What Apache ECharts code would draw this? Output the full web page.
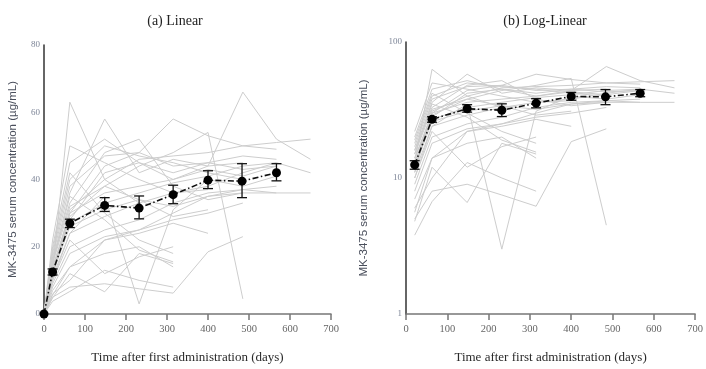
<!DOCTYPE html>
<html>
<head>
<meta charset="utf-8">
<script src="https://cdn.jsdelivr.net/npm/echarts@6/dist/echarts.min.js"></script>
<style>
html,body{margin:0;padding:0;background:#fff;}
#chart{width:706px;height:369px;}
</style>
</head>
<body>
<div id="chart"></div>
<script>
// ---- data ----
const titles = ['(a) Linear', '(b) Log-Linear'];
const yAxisName = 'MK-3475 serum concentration (\u00b5g/mL)';
const xAxisName = 'Time after first administration (days)';
const xTicks = [0, 100, 200, 300, 400, 500, 600, 700];
const linTicks = [0, 20, 40, 60, 80];
const logTicks = [1, 10, 100];

// visit days (nominal)
const visitDays = [0, 21, 63, 148, 232, 315, 400, 485, 567, 650];

// individual subject concentrations at each visit (null = no sample)
const s01 = [0, 13, 63, 40, 33, null, null, null, null, null];
const s02 = [0, 16, 36, 58, 42, 46, 44, 45, null, null];
const s03 = [0, 11, 30, 44, 48, 58, 53, 50, 49, null];
const s04 = [0, 14, 28, 42, 45, 40, 44, 66, 52, 46];
const s05 = [0, 12, 31, 40, 46, 47, 48, 50, 51, 52];
const s06 = [0, 18, 40, 50, 47, 45, 42, 40, null, null];
const s07 = [0, 10, 24, 35, 3, 31, 40, 38, 41, null];
const s08 = [0, 15, 32, 38, 44, 48, 54, 4.5, null, null];
const s09 = [0, 5, 8, 9, 7.5, 6.2, 18.5, 23, null, null];
const s10 = [0, 3.8, 6.7, 13, 10, 8, null, null, null, null];
const s11 = [0, 4.8, 12, 6.6, 18, 15, null, null, null, null];
const s12 = [0, 5.6, 14, 22, 25, 28, 30, 33, null, null];
const s13 = [0, 20, 45, 52, 45, 42, 45, 43, 44, null];
const s14 = [0, 17, 38, 47, 48, 44, 45, 47, 46, null];
const s15 = [0, 13, 27, 33, 36, 39, 41, 44, 45, null];
const s16 = [0, 9, 20, 25, 28, 33, 36, 37, 36, null];
const s17 = [0, 11, 24, 29, 33, 36, 38, 42, 45, 42];
const s18 = [0, 14, 30, 36, 38, 40, 43, 41, 44, null];
const s19 = [0, 12, 26, 31, 34, 32, 35, 36, 36, 36];
const s20 = [0, 8, 18, 23, 25, 30, 35, 37, 38, null];
const s21 = [0, 15, 35, 28, 19, 15.5, null, null, null, null];
const s22 = [0, 7, 14, 18, 20, 14, null, null, null, null];
const s23 = [0, 22, 50, 45, 40, 36, 37, null, null, null];
const s24 = [0, 10, 22, 12, 17, 20, null, null, null, null];
const s25 = [0, 6, 10, 22, 24, 27, 24, null, null, null];
const s26 = [0, 13, 29, 38, 34, 29, 31, null, null, null];
const s27 = [0, 19, 42, 30, 22, 18, null, null, null, null];
const s28 = [0, 16, 33, 48, 52, 38, 34, 36, null, null];
const subjects = [s01,s02,s03,s04,s05,s06,s07,s08,s09,s10,s11,s12,s13,s14,
                  s15,s16,s17,s18,s19,s20,s21,s22,s23,s24,s25,s26,s27,s28];

// mean profile with error bars
const meanDays  = [0, 21, 63, 148, 232, 315, 400, 483, 567];
const meanConc  = [0, 12.5, 27, 32.3, 31.5, 35.5, 39.8, 39.5, 42];
const meanLow   = [0, 11.6, 25.7, 30.5, 28.3, 32.8, 37.3, 34.6, 39.6];
const meanHigh  = [0, 13.4, 28.2, 34.6, 35.1, 38.3, 42.6, 44.7, 44.7];

// ---- chart ----
const serif = 'Liberation Serif, Times New Roman, serif';
const sans = 'Liberation Sans, Arial, sans-serif';

function subjectSeries(panel) {
  return subjects.map(s => ({
    type: 'line',
    xAxisIndex: panel, yAxisIndex: panel,
    data: visitDays.map((d, i) => [d, s[i]])
      .filter(p => p[1] !== null && (panel === 0 || p[1] > 0)),
    symbol: 'none',
    lineStyle: { color: '#cdcdcd', width: 1 },
    silent: true, z: 1
  }));
}

function meanSeries(panel) {
  return {
    type: 'line',
    xAxisIndex: panel, yAxisIndex: panel,
    data: meanDays.map((d, i) => [d, meanConc[i]]).filter(p => panel === 0 || p[1] > 0),
    symbol: 'circle', symbolSize: 9,
    itemStyle: { color: '#000' },
    lineStyle: { color: '#111', width: 1.6, type: [6, 2.5, 1.5, 2.5] },
    z: 5
  };
}

function errSeries(panel) {
  return {
    type: 'custom',
    xAxisIndex: panel, yAxisIndex: panel,
    data: meanDays.map((d, i) => [d, meanLow[i], meanHigh[i]]).filter(p => p[1] > 0),
    renderItem: function (params, api) {
      const lo = api.coord([api.value(0), api.value(1)]);
      const hi = api.coord([api.value(0), api.value(2)]);
      const w = 5;
      const st = { stroke: '#111', lineWidth: 1.3 };
      return {
        type: 'group',
        children: [
          { type: 'line', shape: { x1: lo[0], y1: lo[1], x2: hi[0], y2: hi[1] }, style: st },
          { type: 'line', shape: { x1: lo[0] - w, y1: lo[1], x2: lo[0] + w, y2: lo[1] }, style: st },
          { type: 'line', shape: { x1: hi[0] - w, y1: hi[1], x2: hi[0] + w, y2: hi[1] }, style: st }
        ]
      };
    },
    z: 4, silent: true
  };
}

function xAx(grid) {
  return {
    type: 'value', gridIndex: grid, min: xTicks[0], max: xTicks[xTicks.length - 1], interval: 100,
    name: xAxisName, nameLocation: 'middle', nameGap: 37,
    nameTextStyle: { fontFamily: serif, fontSize: 13, color: '#2a2a2a' },
    axisLine: { show: true, onZero: false, lineStyle: { color: '#777', width: 1.5 } },
    axisTick: { show: true, length: 6, lineStyle: { color: '#777', width: 1.5 } },
    axisLabel: { fontFamily: serif, fontSize: 10.5, color: '#666', margin: 10 },
    splitLine: { show: false }
  };
}

const option = {
  animation: false,
  backgroundColor: '#fff',
  title: [
    { text: titles[0], left: 170, top: 9, textAlign: 'center',
      textStyle: { fontFamily: serif, fontSize: 14, fontWeight: 'normal', color: '#222' } },
    { text: titles[1], left: 540, top: 9, textAlign: 'center',
      textStyle: { fontFamily: serif, fontSize: 14, fontWeight: 'normal', color: '#222' } }
  ],
  grid: [
    { left: 44, top: 45, width: 287, height: 269 },
    { left: 406, top: 42, width: 291, height: 274 }
  ],
  xAxis: [xAx(0), xAx(1)],
  yAxis: [
    { type: 'value', gridIndex: 0, min: linTicks[0], max: linTicks[linTicks.length - 1], interval: 20,
      name: yAxisName, nameLocation: 'middle', nameGap: 25,
      nameTextStyle: { fontFamily: sans, fontSize: 11.5, color: '#4a4f5c' },
      axisLine: { show: true, lineStyle: { color: '#333', width: 1.5 } },
      axisTick: { show: false },
      axisLabel: { fontFamily: serif, fontSize: 9, color: '#7d8597', margin: 4 },
      splitLine: { show: false } },
    { type: 'log', logBase: 10, gridIndex: 1, min: logTicks[0], max: logTicks[logTicks.length - 1],
      name: yAxisName, nameLocation: 'middle', nameGap: 36,
      nameTextStyle: { fontFamily: sans, fontSize: 11.5, color: '#4a4f5c' },
      axisLine: { show: true, lineStyle: { color: '#333', width: 1.5 } },
      axisTick: { show: false },
      axisLabel: { fontFamily: serif, fontSize: 9, color: '#7d8597', margin: 4 },
      minorTick: { show: false },
      splitLine: { show: false } }
  ],
  series: [].concat(
    subjectSeries(0), [errSeries(0), meanSeries(0)],
    subjectSeries(1), [errSeries(1), meanSeries(1)]
  )
};

const chart = echarts.init(document.getElementById('chart'), null, { renderer: 'canvas' });
chart.setOption(option);
</script>
</body>
</html>
